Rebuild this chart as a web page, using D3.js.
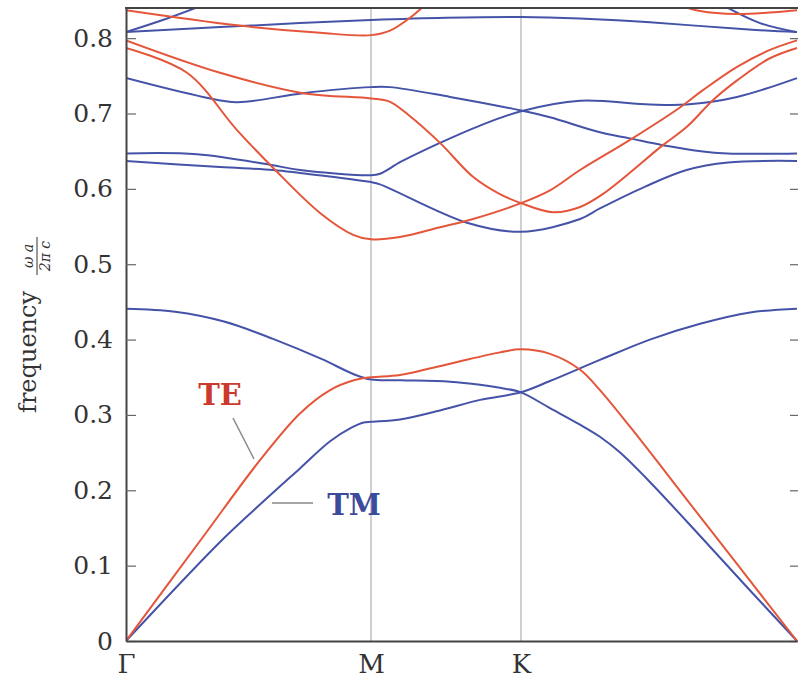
<!DOCTYPE html>
<html>
<head>
<meta charset="utf-8">
<script src="https://cdn.jsdelivr.net/npm/d3@7"></script>
<style>
  body { margin: 0; background: #fff; }
  svg { display: block; }
  text { font-family: "DejaVu Serif", serif; }
</style>
</head>
<body>
<svg width="798" height="683"></svg>
<script>
// path coordinate: 0 = Γ, 1 = M, 2 = K, 3 = Γ
let kLabels = ["Γ", "M", "K"];
let yTicks = [0, 0.1, 0.2, 0.3, 0.4, 0.5, 0.6, 0.7, 0.8];
let yTickLabels = ["0", "0.1", "0.2", "0.3", "0.4", "0.5", "0.6", "0.7", "0.8"];

// TE bands (red)
let te1 = [[0,0],[0.314,0.138],[0.547,0.240],[0.71,0.302],[0.833,0.333],[0.93,0.346],[1,0.350],
  [1.193,0.353],[1.527,0.368],[1.86,0.383],[2,0.387],[2.105,0.381],[2.214,0.360],[2.286,0.333],
  [2.4,0.282],[2.6,0.188],[2.8,0.094],[3,0]];
let te2 = [[0,0.787],[0.249,0.754],[0.453,0.678],[0.6,0.628],[0.792,0.568],[0.927,0.539],[1,0.533],
  [1.193,0.536],[1.46,0.549],[1.68,0.560],[2,0.581],[2.105,0.598],[2.214,0.625],[2.395,0.665],
  [2.576,0.708],[2.659,0.731],[2.783,0.762],[2.9,0.784],[3,0.797]];
let te3 = [[0,0.797],[0.384,0.754],[0.722,0.727],[1,0.720],[1.12,0.716],[1.25,0.698],
  [1.46,0.661],[1.68,0.616],[1.85,0.594],[2,0.581],[2.116,0.569],[2.214,0.576],[2.3,0.594],
  [2.514,0.658],[2.6,0.682],[2.696,0.718],[2.783,0.744],[2.9,0.773],[3,0.787]];
let te4 = [[0,0.837],[0.453,0.817],[0.792,0.807],[1,0.804],[1.127,0.810],[1.26,0.827],[1.393,0.850]];
let te5 = [[2.52,0.850],[2.649,0.836],[2.783,0.832],[2.9,0.834],[3,0.837]];

// TM bands (blue)
let tm1 = [[0,0],[0.392,0.134],[0.567,0.187],[0.71,0.229],[0.833,0.265],[0.92,0.283],[0.97,0.290],[1,0.291],
  [1.193,0.294],[1.46,0.306],[1.727,0.320],[2,0.330],[2.105,0.345],[2.286,0.373],[2.467,0.400],
  [2.649,0.421],[2.83,0.436],[3,0.441]];
let tm2 = [[0,0.441],[0.2,0.437],[0.4,0.424],[0.6,0.401],[0.8,0.374],[0.93,0.354],[1,0.347],
  [1.2,0.346],[1.527,0.344],[1.727,0.340],[1.86,0.336],[2,0.330],[2.105,0.309],[2.214,0.287],
  [2.286,0.271],[2.359,0.250],[2.467,0.211],[2.65,0.139],[2.82,0.071],[3,0]];
let tm3 = [[0,0.747],[0.314,0.722],[0.453,0.715],[0.722,0.727],[1,0.735],[1.127,0.735],[1.527,0.722],
  [2,0.704],[2.105,0.695],[2.286,0.675],[2.395,0.667],[2.514,0.658],[2.7,0.648],[3,0.647]];
let tm4 = [[0,0.647],[0.29,0.646],[0.588,0.632],[0.71,0.625],[1,0.618],[1.06,0.620],[1.2,0.636],
  [1.46,0.661],[1.727,0.684],[2,0.703],[2.214,0.717],[2.467,0.712],[2.6,0.712],[2.783,0.722],[3,0.747]];
let tm5 = [[0,0.637],[0.384,0.629],[0.6,0.625],[0.71,0.621],[1,0.609],[1.06,0.606],[1.64,0.555],
  [2,0.543],[2.214,0.560],[2.286,0.574],[2.45,0.603],[2.6,0.625],[2.75,0.635],[3,0.637]];
let tm6 = [[0,0.808],[0.71,0.820],[1,0.824],[1.5,0.827],[2,0.828],[2.214,0.826],[2.467,0.821],[2.8,0.812],[3,0.808]];
let tm7 = [[0,0.808],[0.15,0.824],[0.3,0.842]];
let tm8 = [[2.74,0.842],[2.866,0.820],[3,0.808]];

let teBands = [te1, te2, te3, te4, te5];
let tmBands = [tm1, tm2, tm3, tm4, tm5, tm6, tm7, tm8];

let svg = d3.select("svg");

let x = d3.scaleLinear().domain([0, 1, 2, 3]).range([126, 371, 521, 797]);
let y = d3.scaleLinear().domain([0, 0.84]).range([641, 8]);

let red = "#e4553a", blue = "#4453a8";

svg.append("clipPath").attr("id", "plot")
  .append("rect").attr("x", 126).attr("y", 8).attr("width", 672).attr("height", 633);

// vertical lines at M and K
svg.append("g").selectAll("line")
  .data([1, 2]).enter().append("line")
  .attr("x1", d => x(d)).attr("x2", d => x(d))
  .attr("y1", y(0.84)).attr("y2", y(0))
  .attr("stroke", "#b0b0b0").attr("stroke-width", 1.2);

let line = d3.line()
  .x(d => x(d[0]))
  .y(d => y(d[1]))
  .curve(d3.curveCatmullRom.alpha(0.5));

let bands = svg.append("g").attr("clip-path", "url(#plot)");
bands.selectAll("path.tm").data(tmBands).enter().append("path")
  .attr("class", "tm").attr("d", line)
  .attr("fill", "none").attr("stroke", blue).attr("stroke-width", 2);
bands.selectAll("path.te").data(teBands).enter().append("path")
  .attr("class", "te").attr("d", line)
  .attr("fill", "none").attr("stroke", red).attr("stroke-width", 2);

// axes
let yAxis = d3.axisLeft(y).tickValues(yTicks)
  .tickFormat((d, i) => yTickLabels[i])
  .tickSizeInner(-10).tickSizeOuter(0).tickPadding(13);
let gy = svg.append("g").attr("transform", "translate(126,0)").call(yAxis);
gy.select(".domain").attr("stroke", "#444").attr("stroke-width", 2);
gy.selectAll(".tick line").attr("stroke", "#666").attr("stroke-width", 1.2);
gy.selectAll(".tick text").attr("font-family", "DejaVu Serif").attr("font-size", 25).attr("fill", "#333");

let yAxisR = d3.axisRight(y).tickValues(yTicks).tickFormat("")
  .tickSizeInner(-8).tickSizeOuter(0);
let gyr = svg.append("g").attr("transform", "translate(798,0)").call(yAxisR);
gyr.select(".domain").remove();
gyr.selectAll(".tick line").attr("stroke", "#666").attr("stroke-width", 1.2);

let xAxis = d3.axisBottom(x).tickValues([0, 1, 2])
  .tickFormat((d, i) => kLabels[i])
  .tickSizeInner(0).tickSizeOuter(0).tickPadding(14);
let gx = svg.append("g").attr("transform", "translate(0,641)").call(xAxis);
gx.select(".domain").attr("stroke", "#444").attr("stroke-width", 2);
gx.selectAll(".tick text").attr("font-family", "DejaVu Serif").attr("font-size", 26).attr("fill", "#333");

svg.append("line")
  .attr("x1", 125).attr("x2", 798).attr("y1", 8).attr("y2", 8)
  .attr("stroke", "#444").attr("stroke-width", 2);

// y axis title
let title = svg.append("g").attr("transform", "translate(36,413) rotate(-90)");
title.append("text").attr("x", 0).attr("y", 0)
  .attr("font-size", 24).attr("fill", "#333").text("frequency");
title.append("text").attr("x", 157).attr("y", -3).attr("text-anchor", "middle")
  .attr("font-size", 14).attr("font-style", "italic").attr("fill", "#333").text("ω a");
title.append("line").attr("x1", 138).attr("x2", 176).attr("y1", 1).attr("y2", 1)
  .attr("stroke", "#333").attr("stroke-width", 1);
title.append("text").attr("x", 157).attr("y", 14).attr("text-anchor", "middle")
  .attr("font-size", 14).attr("font-style", "italic").attr("fill", "#333").text("2π c");

// annotations
svg.append("line").attr("x1", 233).attr("y1", 418).attr("x2", 254).attr("y2", 459)
  .attr("stroke", "#888").attr("stroke-width", 1.5);
svg.append("text").attr("x", 220).attr("y", 405).attr("text-anchor", "middle")
  .attr("font-size", 29).attr("font-weight", "bold").attr("fill", "#cc3a2e").text("TE");
svg.append("line").attr("x1", 272).attr("y1", 503).attr("x2", 313).attr("y2", 503)
  .attr("stroke", "#888").attr("stroke-width", 1.5);
svg.append("text").attr("x", 354).attr("y", 515).attr("text-anchor", "middle")
  .attr("font-size", 29).attr("font-weight", "bold").attr("fill", "#3b4a9a").text("TM");
</script>
</body>
</html>
